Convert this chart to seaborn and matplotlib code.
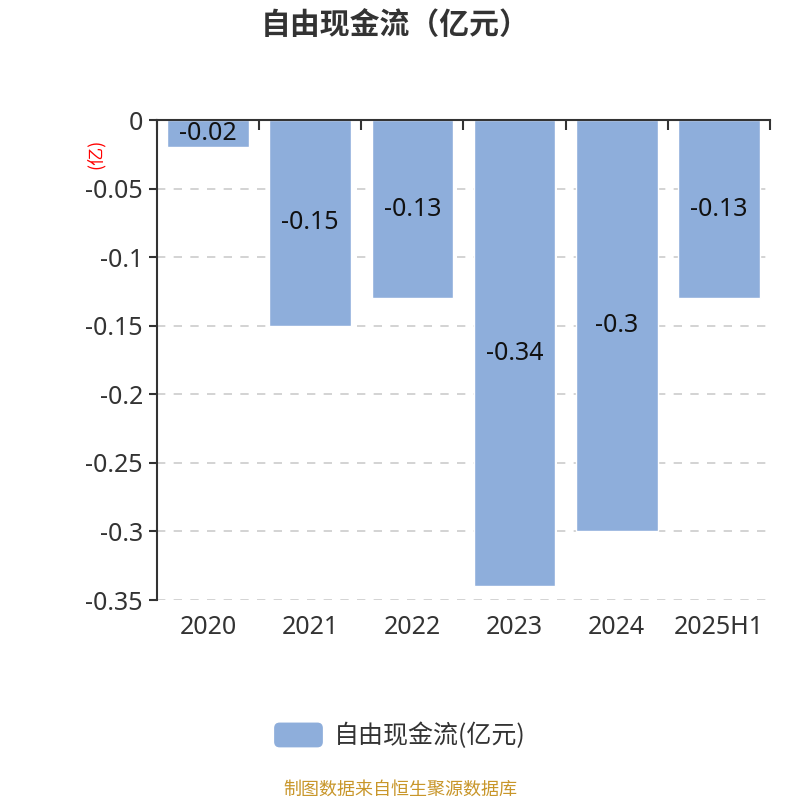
import matplotlib
matplotlib.use("Agg")
import matplotlib.pyplot as plt
import seaborn as sns
import pandas as pd
from matplotlib.patches import FancyBboxPatch, Patch
from matplotlib.legend_handler import HandlerPatch

categories = ["2020", "2021", "2022", "2023", "2024", "2025H1"]
values = [-0.02, -0.15, -0.13, -0.34, -0.30, -0.13]
value_labels = ["-0.02", "-0.15", "-0.13", "-0.34", "-0.3", "-0.13"]
yticks = [0, -0.05, -0.1, -0.15, -0.2, -0.25, -0.3, -0.35]
ytick_labels = ["0", "-0.05", "-0.1", "-0.15", "-0.2", "-0.25", "-0.3", "-0.35"]
title = "自由现金流（亿元）"
series_name = "自由现金流(亿元)"
unit_label = "(亿)"
source = "制图数据来自恒生聚源数据库"

sns.set_theme(style="white")
plt.rcParams["font.family"] = ["Noto Sans", "Noto Sans CJK SC", "DejaVu Sans"]
cjk = ["Noto Sans CJK SC", "DejaVu Sans"]

bar_color = "#8eaedb"
text_color = "#333333"
fs = 18

df = pd.DataFrame({"cat": categories, "val": values})

fig = plt.figure(figsize=(8, 8), dpi=100)
ax = fig.add_axes([0.19625, 0.25, 0.76625, 0.6])

sns.barplot(data=df, x="cat", y="val", color=bar_color, saturation=1,
            width=0.8, ax=ax, zorder=3)

ax.set_ylim(-0.35, 0)
ax.set_xlim(-0.5, len(categories) - 0.5)
ax.set_yticks(yticks)
ax.set_yticklabels(ytick_labels, fontsize=fs, color=text_color)
ax.set_xlabel("")
ax.set_ylabel("")

# grid
for y in yticks[1:]:
    ax.axhline(y, color="#cccccc", linestyle=(0, (5, 5)), linewidth=1.2, zorder=1)

# spines
for s in ["right", "bottom"]:
    ax.spines[s].set_visible(False)
for s in ["left", "top"]:
    ax.spines[s].set_visible(True)
    ax.spines[s].set_color(text_color)
    ax.spines[s].set_linewidth(1.5)
ax.spines["top"].set_zorder(5)

# x ticks: labels at bottom, boundary ticks on top pointing down
ax.set_xticks(range(len(categories)))
ax.set_xticklabels(categories, fontsize=fs, color=text_color)
ax.tick_params(axis="x", which="major", bottom=False, top=False,
               labelbottom=True, labeltop=False, pad=5)
ax.set_xticks([i - 0.5 for i in range(len(categories) + 1)], minor=True)
ax.tick_params(axis="x", which="minor", bottom=False, top=True,
               direction="in", length=7, width=1.5, color=text_color)
ax.tick_params(axis="y", which="major", left=True, direction="out",
               length=6, width=1.5, color=text_color, pad=4)

# bar value labels
for i, (v, lab) in enumerate(zip(values, value_labels)):
    ax.text(i, v / 2, lab, ha="center", va="center", fontsize=fs,
            color="#111111", zorder=4)

# unit label
fig.text(0.119, 0.808, unit_label, rotation=90, color="red", fontsize=13,
         ha="center", va="center", family=cjk)

# title
fig.text(0.494, 0.969, title, ha="center", va="center", fontsize=21.5,
         fontweight="bold", color=text_color, family=cjk)


class RoundHandler(HandlerPatch):
    def create_artists(self, legend, orig_handle, xdescent, ydescent,
                       width, height, fontsize, trans):
        p = FancyBboxPatch((-xdescent, -ydescent), width, height,
                           boxstyle="round,pad=0,rounding_size=4",
                           facecolor=bar_color, edgecolor="none",
                           transform=trans)
        return [p]


handle = Patch(color=bar_color, label=series_name)
fig.legend(handles=[handle], labels=[series_name], loc="center",
           bbox_to_anchor=(0.5, 0.08), frameon=False,
           handlelength=1.95, handleheight=1.15, handletextpad=0.45,
           labelcolor=text_color, prop={"family": cjk, "size": 18},
           handler_map={Patch: RoundHandler()})

fig.text(0.5, 0.0135, source, ha="center", va="center", fontsize=13,
         color="#c8962a", family=cjk)

fig.savefig("out.png", dpi=100)
